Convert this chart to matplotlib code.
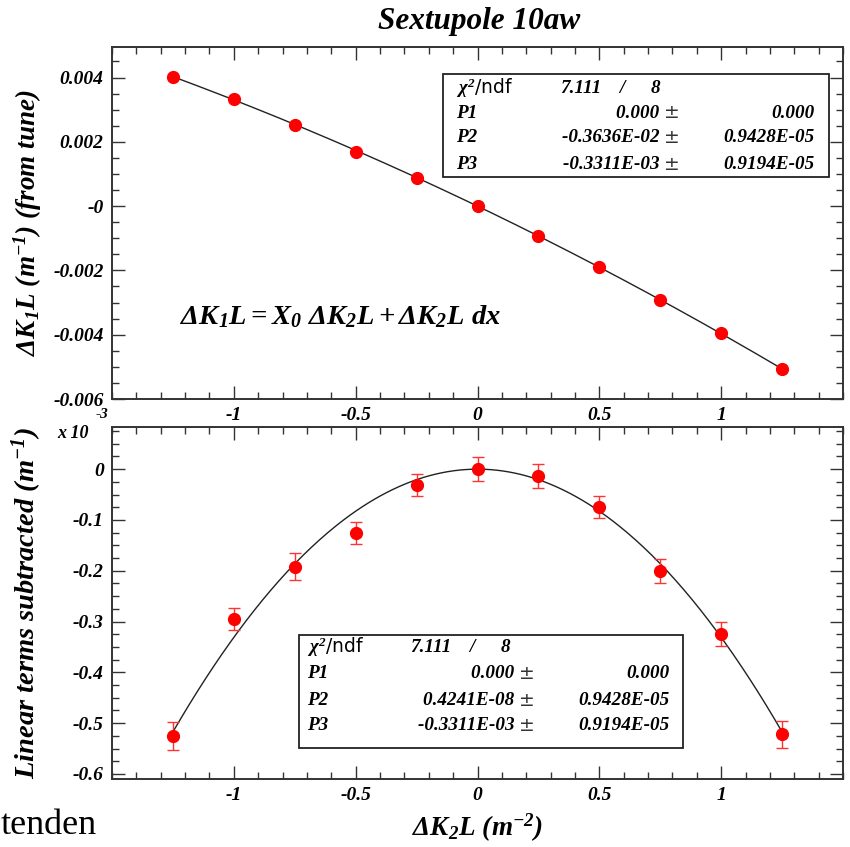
import matplotlib
matplotlib.use("Agg")
import matplotlib.pyplot as plt
import numpy as np
from matplotlib.ticker import MultipleLocator, FixedLocator, FixedFormatter
from matplotlib.patches import Rectangle

# ---------------- data ----------------
dk2l = [-1.25, -1.0, -0.75, -0.5, -0.25, 0.0, 0.25, 0.5, 0.75, 1.0, 1.25]
dk1l_tune = [0.00402, 0.00334, 0.00253, 0.00169, 0.00088, 0.0,
             -0.00092, -0.00189, -0.00293, -0.00396, -0.00507]
residual = [-0.525, -0.295, -0.192, -0.126, -0.031, 0.0,
            -0.014, -0.074, -0.200, -0.325, -0.522]          # x 10^-3
residual_err = [0.027, 0.022, 0.027, 0.022, 0.022, 0.024,
                0.024, 0.022, 0.024, 0.024, 0.027]            # x 10^-3

top_fit = [0.0, -0.3636e-02, -0.3311e-03]      # P1, P2, P3
bot_fit = [0.0, 0.4241e-08, -0.3311e-03]

top_stats = [("P1", "0.000", "0.000"),
             ("P2", "-0.3636E-02", "0.9428E-05"),
             ("P3", "-0.3311E-03", "0.9194E-05")]
bot_stats = [("P1", "0.000", "0.000"),
             ("P2", "0.4241E-08", "0.9428E-05"),
             ("P3", "-0.3311E-03", "0.9194E-05")]
chi2, ndf = "7.111", "8"

x_major = [-1.0, -0.5, 0.0, 0.5, 1.0]
x_labels = ["-1", "-0.5", "0", "0.5", "1"]
top_yticks = [-0.006, -0.004, -0.002, 0.0, 0.002, 0.004]
top_ylabels = ["-0.006", "-0.004", "-0.002", "-0", "0.002", "0.004"]
bot_yticks = [-0.6, -0.5, -0.4, -0.3, -0.2, -0.1, 0.0]
bot_ylabels = ["-0.6", "-0.5", "-0.4", "-0.3", "-0.2", "-0.1", "0"]

# ---------------- style ----------------
SERIF = "Liberation Serif"
plt.rcParams['mathtext.fontset'] = 'custom'
plt.rcParams['mathtext.rm'] = 'Liberation Serif:italic:bold'
plt.rcParams['mathtext.it'] = 'Liberation Serif:italic:bold'
plt.rcParams['mathtext.bf'] = 'Liberation Serif:italic:bold'
plt.rcParams['mathtext.default'] = 'rm'
bi = dict(family=SERIF, weight='bold', style='italic')

W, H = 850, 847
fig = plt.figure(figsize=(W / 100, H / 100), dpi=100)

def ax_rect(l, r, t, b):
    return [l / W, (H - b) / H, (r - l) / W, (b - t) / H]

ax1 = fig.add_axes(ax_rect(112, 843, 47, 399))
ax2 = fig.add_axes(ax_rect(112, 843, 427, 779))

def style_axes(ax, yticks, ylabels, yminor, show_xlabels):
    ax.set_xlim(-1.5, 1.5)
    ax.xaxis.set_major_locator(FixedLocator(x_major))
    ax.xaxis.set_minor_locator(MultipleLocator(0.1))
    ax.yaxis.set_major_locator(FixedLocator(yticks))
    ax.yaxis.set_major_formatter(FixedFormatter(ylabels))
    ax.yaxis.set_minor_locator(MultipleLocator(yminor))
    if show_xlabels:
        ax.xaxis.set_major_formatter(FixedFormatter(x_labels))
    else:
        ax.set_xticklabels([])
    ax.tick_params(which='both', direction='in', top=True, right=True,
                   width=1.0, color='#333333')
    ax.tick_params(which='major', length=9.5, pad=6, labelsize=14)
    ax.tick_params(which='minor', length=5)
    for lab in ax.get_xticklabels() + ax.get_yticklabels():
        lab.set_fontfamily(SERIF)
        lab.set_fontweight('bold')
        lab.set_fontstyle('italic')
    for s in ax.spines.values():
        s.set_linewidth(1.4)
        s.set_color('#333333')

style_axes(ax1, top_yticks, top_ylabels, 0.0005, True)
style_axes(ax2, bot_yticks, bot_ylabels, 0.025, True)
ax1.set_ylim(-0.006, 0.00495)
ax2.set_ylim(-0.61, 0.083)

xf = np.linspace(dk2l[0], dk2l[-1], 300)
ax1.plot(xf, top_fit[0] + top_fit[1] * xf + top_fit[2] * xf ** 2,
         color='#222222', lw=1.0, zorder=2)
ax1.plot(dk2l, dk1l_tune, 'o', color='red', ms=8.5, zorder=3)

ax2.plot(xf, (bot_fit[0] + bot_fit[1] * xf + bot_fit[2] * xf ** 2) / 1e-3,
         color='#222222', lw=1.0, zorder=2)
ax2.errorbar(dk2l, residual, yerr=residual_err, fmt='o', color='red',
             ms=8.5, elinewidth=1.0, capsize=4.5, capthick=1.0, ecolor='#ff3333',
             zorder=3)

# ---------------- texts ----------------
fig.text(479 / W, 1 - 22 / H, "Sextupole 10aw", ha='center', va='center',
         fontsize=22.5, **bi)
ax1.set_ylabel(r"$\Delta K_{1}L\ (m^{-1})$ (from tune)", fontsize=19.5, **bi)
ax2.set_ylabel(r"Linear terms subtracted $(m^{-1})$", fontsize=20.5, **bi)
label_x = (44 - 112) / 731
ax1.yaxis.set_label_coords(label_x, 0.5)
ax2.yaxis.set_label_coords(label_x, 0.5)
ax2.set_xlabel(r"$\Delta K_{2}L\ (m^{-2})$", fontsize=19.5, labelpad=5, **bi)
ax1.text((180 - 112) / 731, (399 - 316) / 352,
         r"$\Delta K_{1}L = X_{0}\ \Delta K_{2}L + \Delta K_{2}L\ dx$",
         fontsize=20.5, ha='left', va='center', transform=ax1.transAxes)

fig.text(73 / W, 1 - 433 / H, "x 10", ha='center', va='center', fontsize=13, **bi)
fig.text(102 / W, 1 - 414 / H, "-3", ha='center', va='center', fontsize=11, **bi)

fig.text(1 / W, 1 - 825 / H, "tenden", ha='left', va='center', fontsize=26,
         family=SERIF)

def stat_box(ax, rect, rows_y, xlab, xval, xerr, xchi, stats):
    l, b, r, t = rect
    fs = 13.8
    ax.add_patch(Rectangle((l, b), r - l, t - b, transform=ax.transAxes,
                           facecolor='white', edgecolor='#222222', lw=1.3, zorder=5))
    ax.text(xlab, rows_y[0], r"$\chi^{2}$/ndf", transform=ax.transAxes, ha='left',
            va='center', fontsize=13.5, family='DejaVu Sans', zorder=6)
    ax.text(xchi, rows_y[0], chi2, transform=ax.transAxes, ha='left', va='center',
            fontsize=fs, zorder=6, **bi)
    ax.text(xchi + 0.085, rows_y[0], "/", transform=ax.transAxes, ha='center',
            va='center', fontsize=fs, zorder=6, **bi)
    ax.text(xchi + 0.13, rows_y[0], ndf, transform=ax.transAxes, ha='center',
            va='center', fontsize=fs, zorder=6, **bi)
    for (name, val, err), y in zip(stats, rows_y[1:]):
        ax.text(xlab, y, name, transform=ax.transAxes, ha='left', va='center',
                fontsize=fs, zorder=6, **bi)
        ax.text(xval, y, val + " ", transform=ax.transAxes, ha='right', va='center',
                fontsize=fs, zorder=6, **bi)
        ax.text(xval, y, "\u00b1", transform=ax.transAxes, ha='left', va='center',
                fontsize=13.5, zorder=6, family='DejaVu Sans', color='#333333')
        ax.text(xerr, y, err, transform=ax.transAxes, ha='right', va='center',
                fontsize=fs, zorder=6, **bi)

# top box (axes fractions)
stat_box(ax1, (0.4528, 0.6307, 0.9808, 0.9233), [0.8835, 0.8125, 0.7415, 0.6676],
         0.4706, 0.7555, 0.9617, 0.6129, top_stats)
stat_box(ax2, (0.2558, 0.088, 0.7811, 0.4087), [0.3747, 0.3009, 0.2242, 0.1533],
         0.2668, 0.5571, 0.7633, 0.4077, bot_stats)

fig.savefig("out.png", dpi=100)
